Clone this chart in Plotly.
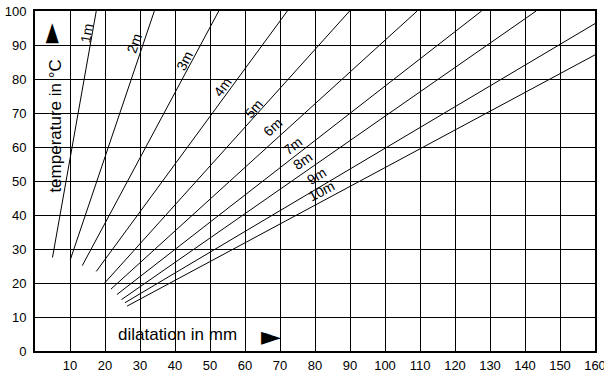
import plotly.graph_objects as go

# pipe lengths and line endpoints (dilatation mm, temperature °C)
lengths = ["1m", "2m", "3m", "4m", "5m", "6m", "7m", "8m", "9m", "10m"]
start_x = [5.0, 10.1, 13.5, 17.5, 19.9, 21.7, 23.4, 24.7, 25.7, 26.3]
start_y = [27.5, 26.9, 25.1, 23.4, 20.0, 18.2, 16.6, 15.1, 14.2, 13.2]
end_x = [17.5, 34.1, 52.5, 72.1, 89.9, 109.2, 127.6, 143.2, 160.0, 160.0]
end_y = [100.0, 100.0, 100.0, 100.0, 100.0, 100.0, 100.0, 100.0, 96.3, 87.1]

# label positions along lines
label_x = [14.8, 28.3, 42.7, 53.6, 62.4, 67.9, 73.6, 76.4, 80.4, 81.9]
label_y = [93.5, 90.3, 85.3, 77.6, 71.2, 65.9, 60.3, 55.9, 51.4, 47.0]
label_angle = [-80, -71, -62, -54, -48, -42, -38, -35, -31, -28]

x_ticks = list(range(10, 161, 10))
y_ticks = list(range(0, 101, 10))

FONT = "Liberation Sans, Arial, sans-serif"

fig = go.Figure()
for i in range(len(lengths)):
    fig.add_trace(go.Scatter(
        x=[start_x[i], end_x[i]], y=[start_y[i], end_y[i]],
        mode="lines", line=dict(color="black", width=1),
        showlegend=False, hoverinfo="skip"))

annotations = []
for i in range(len(lengths)):
    annotations.append(dict(
        x=label_x[i], y=label_y[i], xref="x", yref="y", text=lengths[i],
        showarrow=False, textangle=label_angle[i],
        font=dict(family=FONT, size=14, color="black")))

annotations.append(dict(x=40.7, y=4.8, xref="x", yref="y", text="dilatation in mm",
                        showarrow=False, font=dict(family=FONT, size=17, color="black")))
annotations.append(dict(x=67.3, y=4.4, xref="x", yref="y", text="►",
                        showarrow=False, font=dict(family="DejaVu Sans", size=26, color="black")))
annotations.append(dict(x=6.0, y=66, xref="x", yref="y", text="temperature in °C",
                        showarrow=False, textangle=-90,
                        font=dict(family=FONT, size=17, color="black")))
annotations.append(dict(x=4.3, y=93.5, xref="x", yref="y", text="►",
                        showarrow=False, textangle=-90,
                        font=dict(family="DejaVu Sans", size=26, color="black")))

fig.update_layout(
    width=604, height=372,
    margin=dict(l=35, r=9, t=11, b=21, autoexpand=False),
    paper_bgcolor="white", plot_bgcolor="white",
    annotations=annotations,
    font=dict(family=FONT, size=13, color="black"),
)
fig.update_xaxes(
    range=[0, 160], tickvals=x_ticks, ticktext=[str(v) for v in x_ticks],
    showgrid=True, gridcolor="black", gridwidth=1,
    showline=True, linecolor="black", linewidth=2, mirror=True,
    ticks="", ticklabelstandoff=1, zeroline=False, automargin=False,
    ticklabeloverflow="allow",
    tickfont=dict(family=FONT, size=13, color="black"))
fig.update_yaxes(
    range=[0, 100], tickvals=y_ticks, ticktext=[str(v) for v in y_ticks],
    showgrid=True, gridcolor="black", gridwidth=1,
    showline=True, linecolor="black", linewidth=2, mirror=True,
    ticks="", ticklabelstandoff=4, zeroline=False, automargin=False,
    ticklabeloverflow="allow",
    tickfont=dict(family=FONT, size=13, color="black"))

fig.write_html(
    "out.html",
    config={"displayModeBar": False},
    post_script="document.body.style.margin='0';document.body.style.overflow='hidden';",
)
